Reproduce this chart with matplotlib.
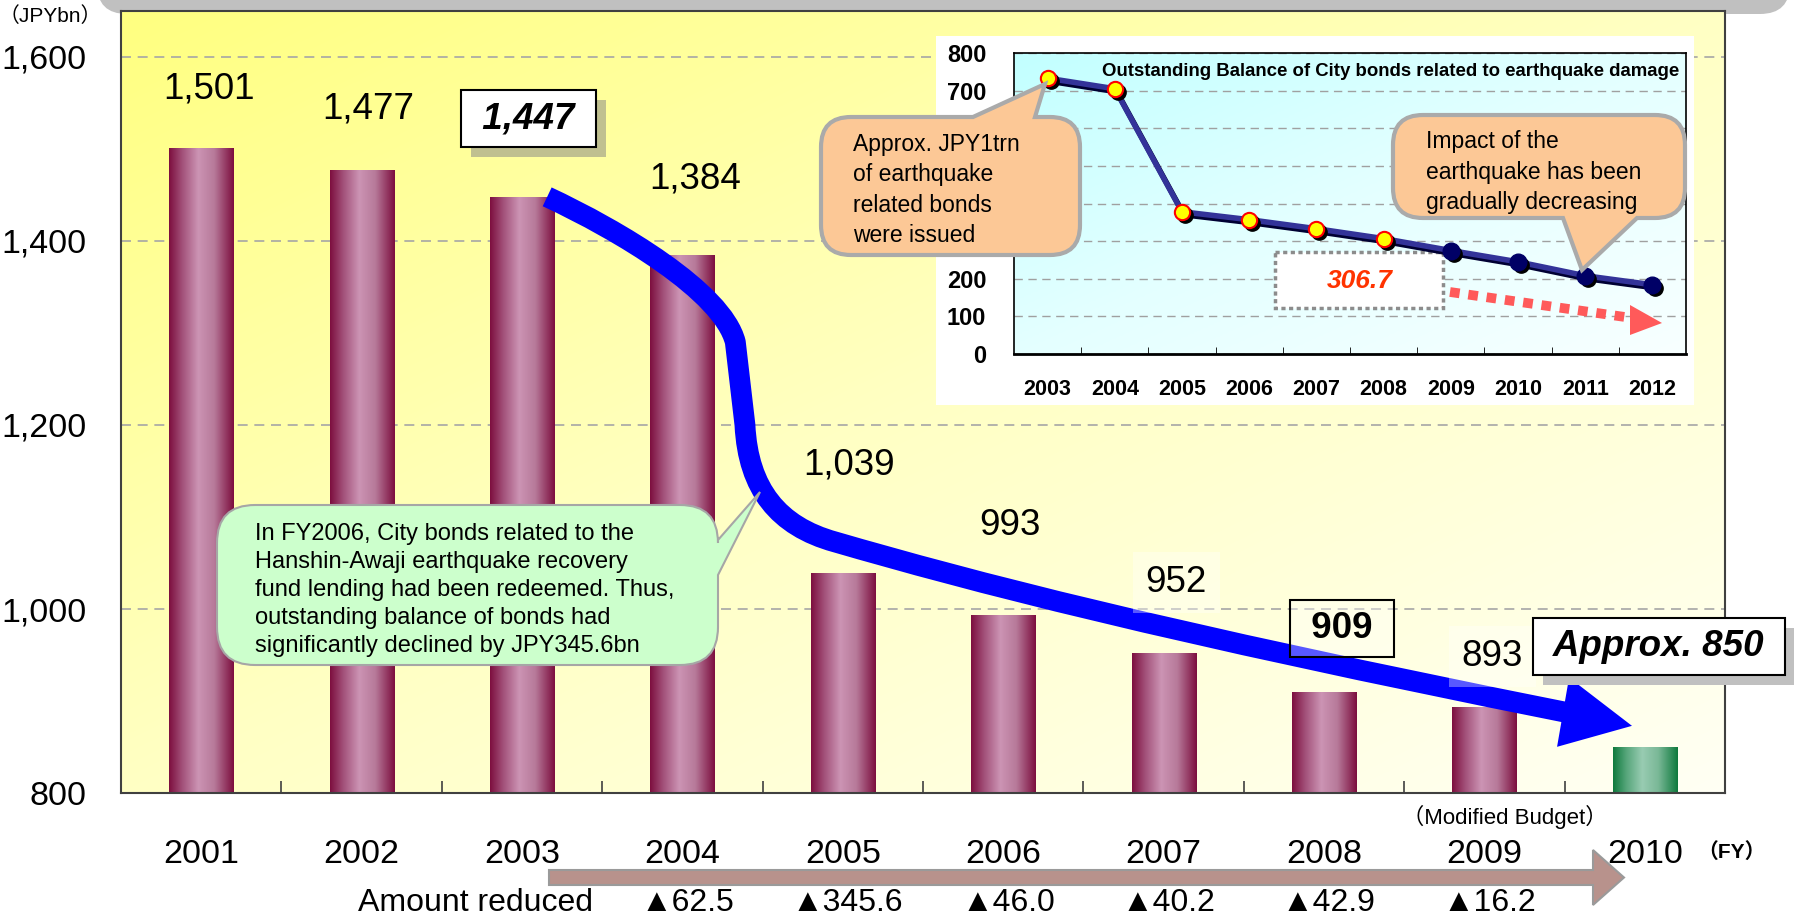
import numpy as np
import matplotlib
matplotlib.use("Agg")
import matplotlib.pyplot as plt
import matplotlib.patheffects as pe
from matplotlib.colors import LinearSegmentedColormap
from matplotlib.patches import FancyBboxPatch, FancyArrow, PathPatch, Polygon, Rectangle
from matplotlib.path import Path
from matplotlib.transforms import Affine2D, ScaledTranslation, blended_transform_factory

plt.rcParams["font.family"] = ["Liberation Sans", "DejaVu Sans", "Noto Sans CJK JP"]

# ---- data -------------------------------------------------------------
years = [2001, 2002, 2003, 2004, 2005, 2006, 2007, 2008, 2009, 2010]
balance = [1501, 1477, 1447, 1384, 1039, 993, 952, 909, 893, 850]
budget_year = 2010

reduced_years = [2004, 2005, 2006, 2007, 2008, 2009]
reduced = [62.5, 345.6, 46.0, 40.2, 42.9, 16.2]

quake_years = [2003, 2004, 2005, 2006, 2007, 2008, 2009, 2010, 2011, 2012]
quake_balance = [733, 705, 378, 357, 333, 306.7, 275, 245, 208, 184]
quake_actual = [True, True, True, True, True, True, False, False, False, False]

# label placement: (category offset, value offset)
label_offsets = [(0.05, 64), (0.04, 66), (0.04, 86), (0.08, 83), (0.04, 118),
                 (0.04, 98), (0.08, 77), (0.11, 70), (0.05, 55), (0.09, 109)]

W, H = 1794, 917
fig = plt.figure(figsize=(W / 100, H / 100), dpi=100)
fig.patch.set_facecolor("white")
# pixel coordinates measured from the top-left corner of the figure
PX = Affine2D().scale(1 / 100, -1 / 100).translate(0, H / 100) + fig.dpi_scale_trans


def shift(dx, dy):
    return ScaledTranslation(dx / 100, -dy / 100, fig.dpi_scale_trans)


def callout_path(x0, y0, x1, y1, r, side, tail):
    verts, codes = [(x0 + r, y0)], [Path.MOVETO]
    edges = [("top", (x1 - r, y0), (x1, y0), (x1, y0 + r)),
             ("right", (x1, y1 - r), (x1, y1), (x1 - r, y1)),
             ("bottom", (x0 + r, y1), (x0, y1), (x0, y1 - r)),
             ("left", (x0, y0 + r), (x0, y0), (x0 + r, y0))]
    for name, end, ctrl, after in edges:
        if name == side:
            verts += list(tail)
            codes += [Path.LINETO] * 3
        verts += [end, ctrl, after]
        codes += [Path.LINETO, Path.CURVE3, Path.CURVE3]
    verts.append((x0 + r, y0))
    codes.append(Path.CLOSEPOLY)
    return Path(verts, codes)


# grey header band and the "amount reduced" arrow behind everything
fig.add_artist(FancyBboxPatch((97, -60), 1693, 74, boxstyle="round,pad=0,rounding_size=30",
                              transform=PX, fc="#c0c0c0", ec="none", zorder=-2))
fig.add_artist(FancyArrow(549, 877.5, 1075, 0, width=15, head_width=55, head_length=31,
                          length_includes_head=True, transform=PX,
                          fc="#b8928c", ec="#9a9a9a", lw=1.5, zorder=-1))

# ---- main chart -------------------------------------------------------
ax = fig.add_axes([121 / W, 1 - 793 / H, 1604 / W, 782 / H], zorder=1)
x = np.arange(len(years))

bg = LinearSegmentedColormap.from_list("bg", ["#ffff80", "#ffffc4", "#fffff4"])
g = np.add.outer(np.linspace(0, 1, 200), np.linspace(0, 1, 300)) / 2
ax.imshow(g, cmap=bg, extent=(0, 1, 0, 1), transform=ax.transAxes, aspect="auto",
          interpolation="bilinear", zorder=0)

maroon = LinearSegmentedColormap.from_list(
    "maroon", [(0, "#7d0f3f"), (0.2, "#a25079"), (0.45, "#cc94b4"), (0.7, "#b77a9a"), (1, "#7d0f3f")])
green = LinearSegmentedColormap.from_list(
    "green", [(0, "#0f7a3d"), (0.2, "#55a57a"), (0.45, "#99ccb2"), (0.7, "#7ab897"), (1, "#0f7a3d")])

bars = ax.bar(x, balance, width=0.4, color="none", zorder=2)
ramp = np.linspace(0, 1, 128).reshape(1, -1)
for b, yr in zip(bars, years):
    x0, w, h = b.get_x(), b.get_width(), b.get_height()
    ax.imshow(ramp, cmap=green if yr == budget_year else maroon,
              extent=(x0, x0 + w, 0, h), aspect="auto", interpolation="bilinear", zorder=2)

# big blue trend arrow
arrow_path = Path(
    [(2.157, 1448), (2.6, 1412), (3.25, 1345), (3.33, 1290), (3.39, 1200),
     (3.41, 1130), (3.6, 1090), (3.95, 1073), (4.8, 1030), (6.0, 975), (8.5, 888)],
    [Path.MOVETO, Path.CURVE4, Path.CURVE4, Path.CURVE4, Path.LINETO,
     Path.CURVE4, Path.CURVE4, Path.CURVE4, Path.CURVE4, Path.CURVE4, Path.CURVE4])
ax.add_patch(PathPatch(arrow_path, fill=False, ec="#0000ff", lw=15,
                       capstyle="butt", joinstyle="round", zorder=3))
ax.add_patch(Polygon([(8.528, 925.5), (8.92, 873), (8.453, 850.2)], closed=True,
                     fc="#0000ff", ec="none", zorder=3))

# value labels
for i, (v, (dx, dy)) in enumerate(zip(balance, label_offsets)):
    tx, ty = i + dx, v + dy
    if i == 2 or years[i] == budget_year:
        s = f" {v:,} " if years[i] != budget_year else f" Approx. {v} "
        shadow = "#c0c090" if i == 2 else "#c0c0c0"
        t = ax.text(tx, ty, s, ha="center", va="center", fontsize=26.5, fontweight="bold",
                    fontstyle="italic", zorder=4,
                    bbox=dict(boxstyle="square,pad=0.3", fc="white", ec="black", lw=1.5))
        t.get_bbox_patch().set_path_effects(
            [pe.SimplePatchShadow(offset=(7.2, -7.2), shadow_rgbFace=shadow, alpha=1.0),
             pe.Normal()])
    elif i == 7:
        ax.text(tx, ty, f" {v:,} ", ha="center", va="center", fontsize=26.5,
                fontweight="bold", zorder=4,
                bbox=dict(boxstyle="square,pad=0.3", fc=(1, 1, 1, 0.35), ec="black", lw=1.5))
    elif i in (6, 8):
        ax.text(tx, ty, f"{v:,}", ha="center", va="center", fontsize=26.5, zorder=4,
                bbox=dict(boxstyle="square,pad=0.35", fc=(1, 1, 1, 0.35), ec="none"))
    else:
        ax.text(tx, ty, f"{v:,}", ha="center", va="center", fontsize=26.5, zorder=4)

# note balloon
ax.add_patch(PathPatch(callout_path(217, 505, 718, 665, 38, "right",
                                    [(718, 540), (760, 492), (718, 575)]),
                       transform=PX, fc="#ccffcc", ec="#a6a6a6", lw=1.5,
                       clip_on=False, zorder=5))
ax.text(255, 590, "In FY2006, City bonds related to the\nHanshin-Awaji earthquake recovery\n"
        "fund lending had been redeemed. Thus,\noutstanding balance of bonds had\n"
        "significantly declined by JPY345.6bn",
        transform=PX, ha="left", va="center", fontsize=17, linespacing=1.35, zorder=5.5)

ax.set_xlim(-0.5, len(years) - 0.5)
ax.set_ylim(800, 1650)
yt = [800, 1000, 1200, 1400, 1600]
ax.set_yticks(yt, [f"{t:,}" for t in yt])
ax.set_xticks(x, [str(y) for y in years])
ax.set_xticks(x[:-1] + 0.5, minor=True)
ax.tick_params(axis="y", length=0, pad=25, labelsize=24.5)
ax.tick_params(axis="x", which="major", length=0, pad=33, labelsize=24.5)
ax.tick_params(axis="x", which="minor", direction="in", length=9, width=1.2, color="#404040")
ax.yaxis.grid(True, ls=(0, (6, 4)), color="#a6a6a6", lw=1.2)
for s in ax.spines.values():
    s.set_color("#404040")
    s.set_linewidth(1.5)

# axis captions and reduction row
fig.text(50, 16, "（JPYbn）", transform=PX, ha="center", va="center", fontsize=15)
fig.text(1731, 852, "（FY）", transform=PX, ha="center", va="center", fontsize=15, fontweight="bold")
fig.text(1505, 817, "（Modified Budget）", transform=PX, ha="center", va="center", fontsize=16)
fig.text(475, 903, "Amount reduced", transform=PX, ha="center", va="center", fontsize=23)
row = blended_transform_factory(ax.transData, PX)
for yr, amt in zip(reduced_years, reduced):
    ax.text(years.index(yr) + 0.03, 903, f"▲{amt:.1f}", transform=row, ha="center",
            va="center", fontsize=23, clip_on=False,
            family=["Liberation Sans", "Noto Sans CJK JP"])

# ---- inset: earthquake related bonds ----------------------------------
ax2 = fig.add_axes([1014 / W, 1 - 354 / H, 672 / W, 301 / H], zorder=2)
xi = np.arange(len(quake_years))
ax2.add_patch(Rectangle((936, 36), 758, 369, transform=PX, fc="white", ec="none",
                        clip_on=False, zorder=-1))
cyan = LinearSegmentedColormap.from_list("cyan", ["#c2ffff", "#e4ffff", "#f8ffff"])
ax2.imshow(g, cmap=cyan, extent=(0, 1, 0, 1), transform=ax2.transAxes, aspect="auto",
           interpolation="bilinear", zorder=0)

ax2.plot(xi, quake_balance, color="#000033", lw=4, zorder=3,
         transform=ax2.transData + shift(2, 3))
ax2.plot(xi, quake_balance, color="#333399", lw=4, zorder=3.1)
act = np.array(quake_actual)
qb = np.array(quake_balance)
ax2.plot(xi, qb, "o", ms=11, color="black", ls="none", zorder=3.2,
         transform=ax2.transData + shift(3, 3))
ax2.plot(xi[act], qb[act], "o", ms=11, mfc="#ffff00", mec="#ff0000", mew=1.5, ls="none", zorder=4)
ax2.plot(xi[~act], qb[~act], "o", ms=12, mfc="#000066", mec="#000066", ls="none", zorder=4)

ax2.set_xlim(-0.5, len(quake_years) - 0.5)
ax2.set_ylim(0, 800)
# 300-600 sit behind the left balloon
ax2.set_yticks(range(0, 801, 100),
               ["" if 300 <= t <= 600 else str(t) for t in range(0, 801, 100)],
               fontsize=17, fontweight="bold")
ax2.set_xticks(xi, [str(y) for y in quake_years], fontsize=15.5, fontweight="bold")
ax2.set_xticks(xi[:-1] + 0.5, minor=True)
ax2.tick_params(axis="y", length=0, pad=20)
ax2.tick_params(axis="x", which="major", length=0, pad=18)
ax2.tick_params(axis="x", which="minor", direction="in", length=5, color="black")
ax2.yaxis.grid(True, ls=(0, (6, 4)), color="#a0a0a0", lw=1)
for s in ax2.spines.values():
    s.set_color("black")
    s.set_linewidth(1.2)
ax2.spines["bottom"].set_linewidth(2)
ax2.text(0.99, 0.937, "Outstanding Balance of City bonds related to earthquake damage",
         transform=ax2.transAxes, ha="right", va="center", fontsize=13.4, fontweight="bold")

# remaining value box and projection arrow
ax2.add_patch(Rectangle((1275, 252), 168, 56, transform=PX, fc="white", ec="#8c8c8c", lw=2.5,
                        ls=(0, (1.2, 1.0)), clip_on=False, zorder=2.5))
ax2.text(1360, 281, f"{quake_balance[5]}", transform=PX, ha="center", va="center",
         fontsize=19, fontweight="bold", fontstyle="italic", color="#ff3300", zorder=2.6)
ax2.plot([1450, 1632], [292, 318], transform=PX, color="#ff5a5a", lw=7,
         ls=(0, (1.0, 0.9)), solid_capstyle="butt", dash_capstyle="butt", zorder=2.5, clip_on=False)
ax2.add_patch(Polygon([(1630, 305), (1662, 323), (1630, 335)], closed=True, transform=PX,
                      fc="#ff5a5a", ec="none", clip_on=False, zorder=2.5))

# orange balloons
ax2.add_patch(PathPatch(callout_path(821, 117, 1080, 255, 30, "top",
                                     [(973, 117), (1045, 84), (1035, 117)]),
                        transform=PX, fc="#fcc896", ec="#aaaaaa", lw=3, clip_on=False, zorder=6))
ax2.text(853, 190, "Approx. JPY1trn\nof earthquake\nrelated bonds\nwere issued",
         transform=PX, ha="left", va="center", fontsize=16.5, linespacing=1.4, zorder=7)
ax2.add_patch(PathPatch(callout_path(1393, 115, 1685, 218, 30, "bottom",
                                     [(1637, 218), (1582, 270), (1563, 218)]),
                        transform=PX, fc="#fcc896", ec="#aaaaaa", lw=3, clip_on=False, zorder=6))
ax2.text(1426, 172, "Impact of the\nearthquake has been\ngradually decreasing",
         transform=PX, ha="left", va="center", fontsize=16.5, linespacing=1.4, zorder=7)

ax2.set_xlim(-0.5, len(quake_years) - 0.5)
ax2.set_ylim(0, 800)
ax.set_xlim(-0.5, len(years) - 0.5)
ax.set_ylim(800, 1650)

fig.savefig("out.png", dpi=100)
